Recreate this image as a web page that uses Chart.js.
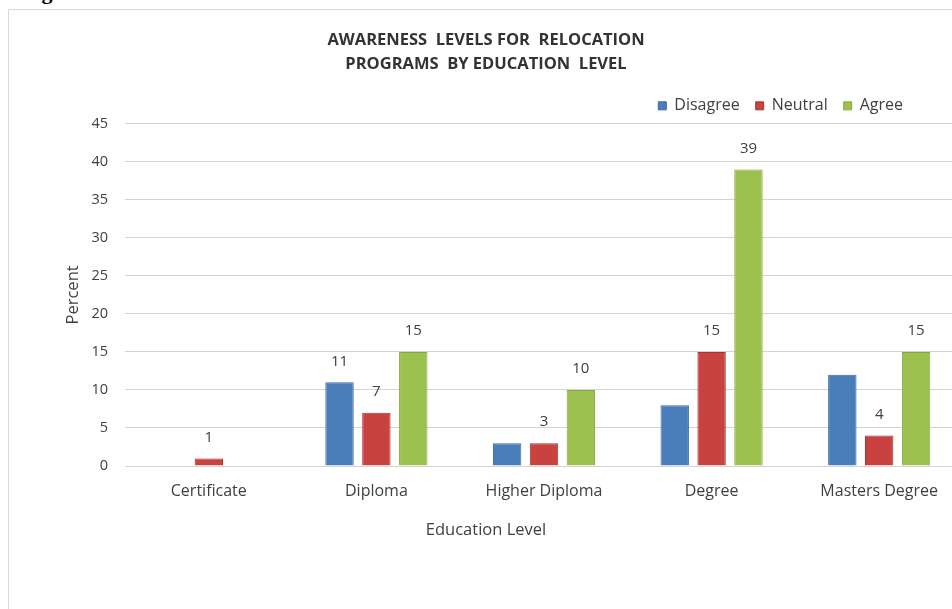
<!DOCTYPE html>
<html>
<head>
<meta charset="utf-8">
<script src="https://cdn.jsdelivr.net/npm/chart.js@4.4.1/dist/chart.umd.min.js"></script>
<style>
  html, body { margin: 0; padding: 0; background: #fff; overflow: hidden; }
  body { width: 952px; height: 609px; position: relative; }
  .caption {
    position: absolute; left: 22px; top: -21px;
    font: bold 22px "Liberation Serif", serif; color: #000;
    white-space: nowrap;
  }
  .frame {
    position: absolute; left: 8px; top: 9px; width: 1000px; height: 700px;
    border: 1px solid #d9d9d9; box-sizing: border-box;
  }
  .chart-box { position: absolute; left: 9px; top: 10px; width: 954px; height: 599px; }
</style>
</head>
<body>
<div class="caption">Figure</div>
<div class="frame"></div>
<div class="chart-box"><canvas id="awareness-chart"></canvas></div>

<script>
/* Awareness levels for relocation programs, by education level */

// ---- Data ----
const categories = ['Certificate', 'Diploma', 'Higher Diploma', 'Degree', 'Masters Degree'];
const disagree   = [0, 11, 3, 8, 12];
const neutral    = [1, 7, 3, 15, 4];
const agree      = [0, 15, 10, 39, 15];

// labels the source chart actually shows (null = no label)
const disagreeLabels = [null, 11, null, null, null];
const neutralLabels  = [1, 7, 3, 15, 4];
const agreeLabels    = [null, 15, 10, 39, 15];

const yTicks = [0, 5, 10, 15, 20, 25, 30, 35, 40, 45];

const FONT = '"Open Sans", "Noto Sans", sans-serif';
const TEXT = '#404040';

// ---- Small plugin: value labels above bars ----
const valueLabels = {
  id: 'valueLabels',
  afterDatasetsDraw(chart) {
    const ctx = chart.ctx;
    ctx.save();
    ctx.font = '15px ' + FONT;
    ctx.fillStyle = TEXT;
    ctx.textAlign = 'center';
    ctx.textBaseline = 'middle';
    chart.data.datasets.forEach((ds, i) => {
      const meta = chart.getDatasetMeta(i);
      meta.data.forEach((bar, j) => {
        const lbl = ds.shownLabels[j];
        if (lbl === null || lbl === undefined) return;
        ctx.fillText(String(lbl), bar.x, bar.y - 21);
      });
    });
    ctx.restore();
  }
};

// legend sits top-right, a bit left of the (clipped) plot edge
const legendShift = {
  id: 'legendShift',
  beforeDraw(chart) {
    const lg = chart.legend;
    if (!lg) return;
    lg.right = 910;
  }
};

function initChart() {
  const ctx = document.getElementById('awareness-chart');

  new Chart(ctx, {
    type: 'bar',
    data: {
      labels: categories,
      datasets: [
        { label: 'Disagree', data: disagree, shownLabels: disagreeLabels,
          backgroundColor: '#4A7EBB', borderColor: '#3A67A0' },
        { label: 'Neutral', data: neutral, shownLabels: neutralLabels,
          backgroundColor: '#C84340', borderColor: '#A53432' },
        { label: 'Agree', data: agree, shownLabels: agreeLabels,
          backgroundColor: '#9DC14E', borderColor: '#85A83D' }
      ].map(d => Object.assign(d, {
        borderWidth: 1,
        barPercentage: 0.77,
        categoryPercentage: 0.66
      }))
    },
    options: {
      responsive: true,
      maintainAspectRatio: false,
      animation: false,
      layout: { padding: { left: 0, right: 0, top: 4, bottom: 69 } },
      plugins: {
        title: {
          display: true,
          text: ['AWARENESS  LEVELS FOR  RELOCATION', 'PROGRAMS  BY EDUCATION  LEVEL'],
          color: '#333',
          font: { family: FONT, size: 16.5, weight: 'bold', lineHeight: 1.45 },
          padding: { top: 14, bottom: 6 }
        },
        subtitle: {
          display: true,
          position: 'bottom',
          text: 'Education Level',
          color: TEXT,
          font: { family: FONT, size: 16.5 },
          padding: { top: 11, bottom: 0 }
        },
        legend: {
          position: 'top',
          align: 'end',
          labels: {
            color: TEXT,
            font: { family: FONT, size: 16 },
            boxWidth: 8,
            boxHeight: 8,
            padding: 16
          }
        },
        tooltip: { enabled: false }
      },
      scales: {
        x: {
          grid: { display: false },
          border: { color: '#d4d4d4' },
          ticks: { color: TEXT, font: { family: FONT, size: 16 }, padding: 8 }
        },
        y: {
          min: 0,
          max: 45,
          afterBuildTicks: axis => { axis.ticks = yTicks.map(v => ({ value: v })); },
          afterFit: axis => { axis.width = 116; },
          grid: { color: '#d4d4d4', drawTicks: false },
          border: { display: false },
          ticks: { color: TEXT, font: { family: FONT, size: 14.5 }, padding: 17 },
          title: {
            display: true,
            text: 'Percent',
            color: TEXT,
            font: { family: FONT, size: 16.5 },
            padding: { top: 54, bottom: 0 }
          }
        }
      }
    },
    plugins: [valueLabels, legendShift]
  });
}

document.addEventListener('DOMContentLoaded', initChart);
</script>
</body>
</html>
